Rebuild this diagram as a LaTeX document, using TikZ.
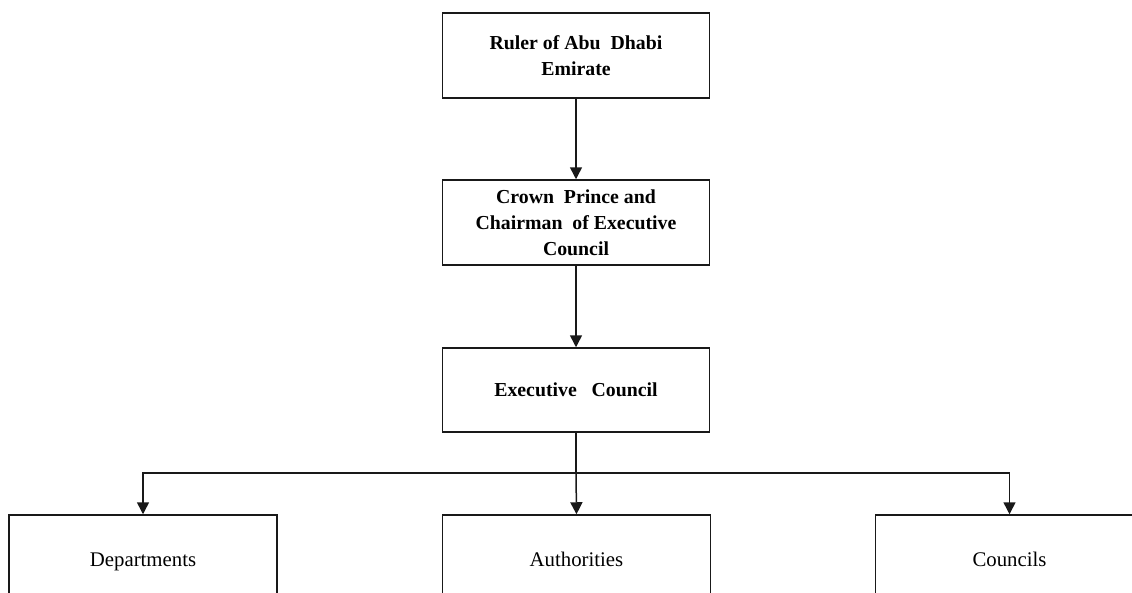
\documentclass[tikz,border=0pt]{standalone}
\usepackage{fontspec}
\setmainfont{Liberation Serif}
\usetikzlibrary{arrows.meta}
\begin{document}
\begin{tikzpicture}[x=1pt,y=-1pt,
  box/.style={draw=black!90, line width=1.5pt, minimum width=267pt, minimum height=85pt, inner sep=0pt, align=center, font=\fontsize{19.8}{26}\selectfont\bfseries},
  lowbox/.style={draw=black!90, line width=1.5pt, minimum width=268pt, minimum height=94pt, inner sep=0pt, align=center, text height=14pt, text depth=4.5pt, font=\fontsize{20.8}{26}\selectfont},
  arr/.style={line width=1.5pt, draw=black!90, -{Triangle[width=12pt,length=12pt]}},
  ln/.style={line width=1.5pt, draw=black!90}]
\useasboundingbox (0,0) rectangle (1132,592);
\node[box] (ruler) at (576,55.5) {Ruler of Abu\ \ Dhabi\\Emirate};
\node[box] (crown) at (576,222.5) {Crown\ \ Prince and\\Chairman\ \ of Executive\\Council};
\node[box, minimum height=84pt] (exec) at (576,390) {Executive\ \ \ Council};
\node[lowbox] (dept) at (143,562) {Departments};
\node[lowbox] (auth) at (576.5,562) {Authorities};
\node[lowbox] (counc) at (1009.5,562) {Councils};
\coordinate (j) at (576,473);
\draw[arr] (ruler) -- (crown);
\draw[arr] (crown) -- (exec);
\draw[ln] (exec.south) -- (j);
\draw[arr] (j) -- (auth.north);
\draw[arr] (j) -| (dept.north);
\draw[arr] (j) -| (counc.north);
\end{tikzpicture}
\end{document}
